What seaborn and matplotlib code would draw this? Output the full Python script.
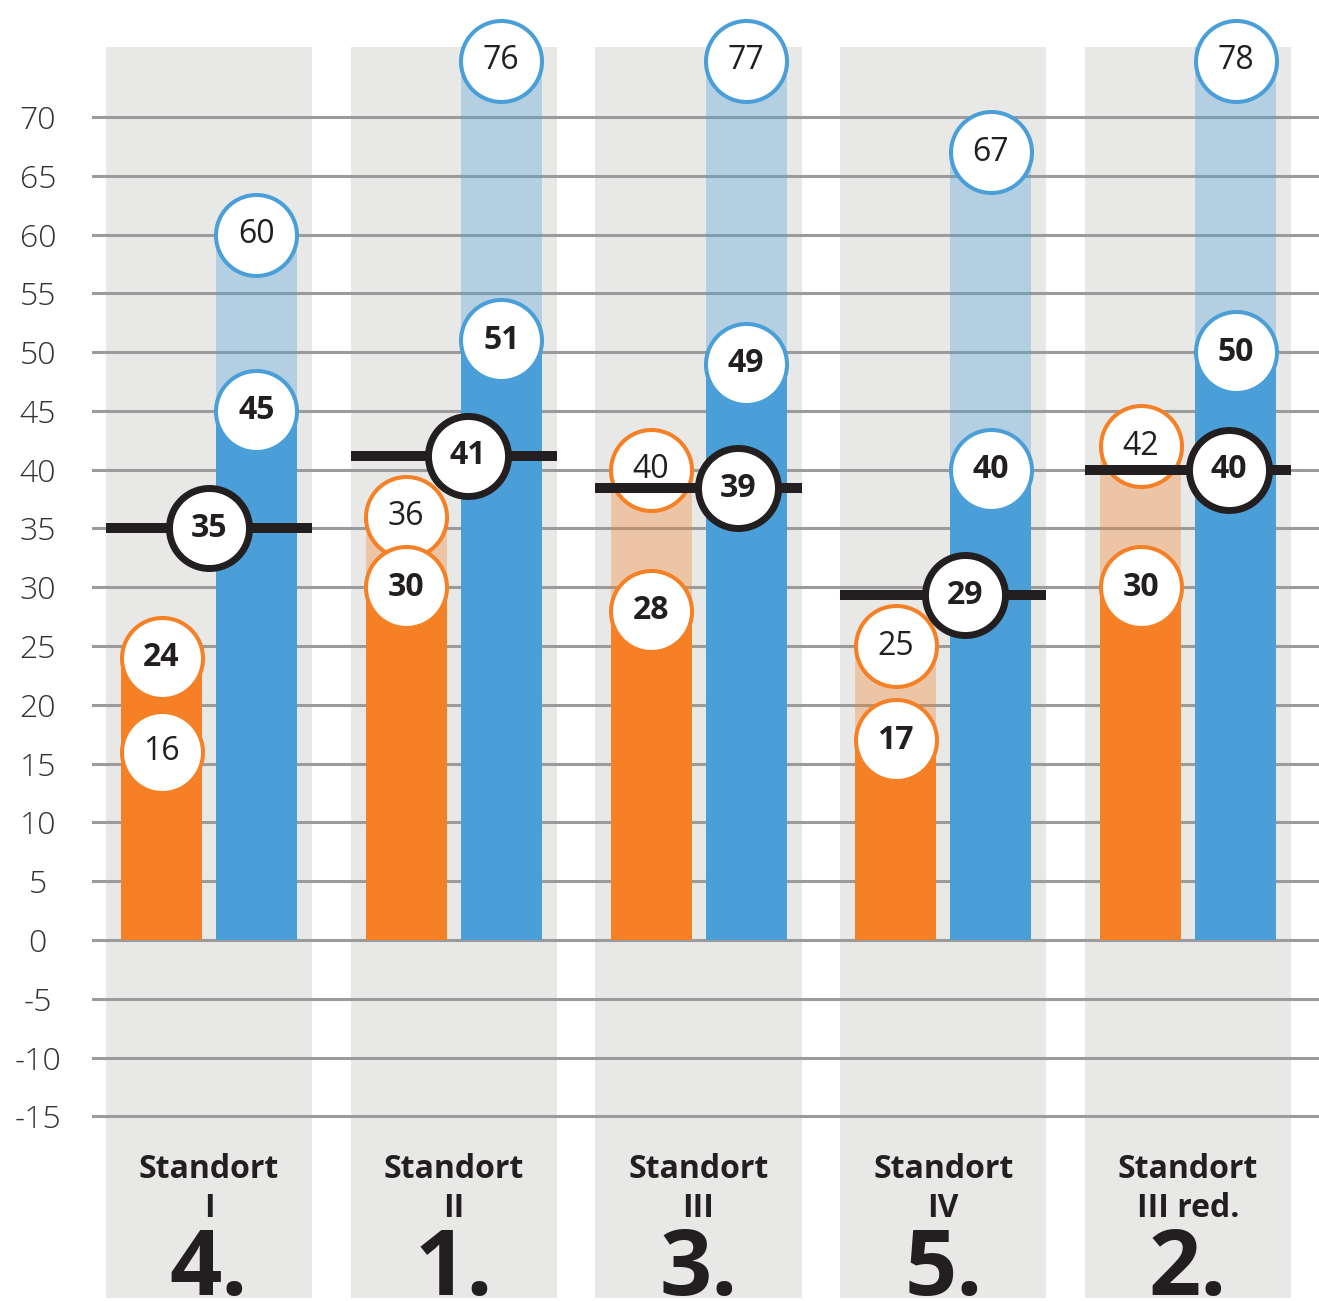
import numpy as np
import pandas as pd
import matplotlib
matplotlib.use("Agg")
import matplotlib.pyplot as plt
import seaborn as sns

# ---------------- data ----------------
sites = ["Standort\nI", "Standort\nII", "Standort\nIII", "Standort\nIV", "Standort\nIII red."]
ranks = ["4.", "1.", "3.", "5.", "2."]
orange_solid = [24, 30, 28, 17, 30]
orange_light = [16, 36, 40, 25, 42]
blue_solid = [45, 51, 49, 40, 50]
blue_light = [60, 76, 77, 67, 78]
overall = [35, 41.2, 38.4, 29.3, 40]
overall_labels = ["35", "41", "39", "29", "40"]
yticks = list(range(-15, 75, 5))

# ---------------- style ----------------
ORANGE = "#f58025"
BLUE = "#4a9fd8"
BG = "#e8e8e7"
GRID = "#9b9b9b"
DARK = "#231f20"
FONT = ["Open Sans", "DejaVu Sans"]
plt.rcParams["font.family"] = FONT

W, H = 1319, 1301
fig = plt.figure(figsize=(W / 100, H / 100), dpi=100)
ymin, ymax = -30.45, 75.95
ax = fig.add_axes([92 / W, 1 - 1298 / H, (W - 92) / W, (1298 - 47) / H])

x = np.arange(len(sites))
bg_width = 0.842
ax.bar(x, ymax - ymin, bottom=ymin, width=bg_width, color=BG, zorder=0.2, linewidth=0)

df_light = pd.DataFrame({
    "site": sites * 2,
    "series": ["o"] * len(sites) + ["b"] * len(sites),
    "value": orange_light + blue_light,
})
df_solid = pd.DataFrame({
    "site": sites * 2,
    "series": ["o"] * len(sites) + ["b"] * len(sites),
    "value": orange_solid + blue_solid,
})

common = dict(x="site", y="value", hue="series", order=sites, hue_order=["o", "b"],
              palette=[ORANGE, BLUE], width=0.776, gap=0.147, dodge=True,
              legend=False, errorbar=None, saturation=1, linewidth=0, ax=ax)
sns.barplot(data=df_light, alpha=0.33, zorder=1, **common)
sns.barplot(data=df_solid, zorder=2, **common)

ax.set_xlim(-0.478, 4.535)
ax.set_ylim(ymin, ymax)
ax.set_yticks(yticks)
ax.set_yticklabels([str(t) for t in yticks])
ax.set_xticks([])
ax.set_xlabel("")
ax.set_ylabel("")
ax.tick_params(axis="y", length=0, pad=39, labelsize=23, labelcolor="#333333")
for lab in ax.get_yticklabels():
    lab.set_ha("center")
    lab.set_fontweight("light")
ax.set_axisbelow(True)
ax.grid(axis="y", color=GRID, linewidth=2.2)
ax.grid(axis="x", visible=False)
for s in ax.spines.values():
    s.set_visible(False)
ax.set_facecolor("none")

dx = 0.194
cap = 74.8


def circles(xs, vals, edge, bold):
    ys = np.minimum(np.array(vals, dtype=float), cap)
    ax.scatter(xs, ys, s=3400, facecolor="white", edgecolor=edge, linewidth=2.9,
               zorder=5, clip_on=False)
    for xi, yi, v in zip(xs, ys, vals):
        ax.text(xi, yi, str(v), ha="center", va="center", fontsize=23,
                fontweight="bold" if bold else "normal", color=DARK, zorder=6)


circles(x - dx, orange_light, ORANGE, False)
circles(x - dx, orange_solid, ORANGE, True)
circles(x + dx, blue_light, BLUE, False)
circles(x + dx, blue_solid, BLUE, True)

# overall lines and black circles
label_dx = [0.0, 0.057, 0.163, 0.09, 0.168]
for i, v in enumerate(overall):
    ax.plot([x[i] - bg_width / 2, x[i] + bg_width / 2], [v, v], color=DARK,
            linewidth=7.2, solid_capstyle="butt", zorder=7)
ax.scatter(x + np.array(label_dx), overall, s=3320, facecolor="white",
           edgecolor=DARK, linewidth=5, zorder=8, clip_on=False)
for i, v in enumerate(overall):
    ax.text(x[i] + label_dx[i], v, overall_labels[i], ha="center", va="center",
            fontsize=23, fontweight="bold", color=DARK, zorder=9)

# category labels and ranks
for i in range(len(sites)):
    ax.text(x[i], -21.2, sites[i], ha="center", va="center", fontsize=23,
            fontweight="bold", color=DARK, linespacing=1.25)
    ax.text(x[i], -30.2, ranks[i], ha="center", va="baseline", fontsize=66,
            fontweight="bold", color=DARK)

fig.savefig("out.png", dpi=100)
